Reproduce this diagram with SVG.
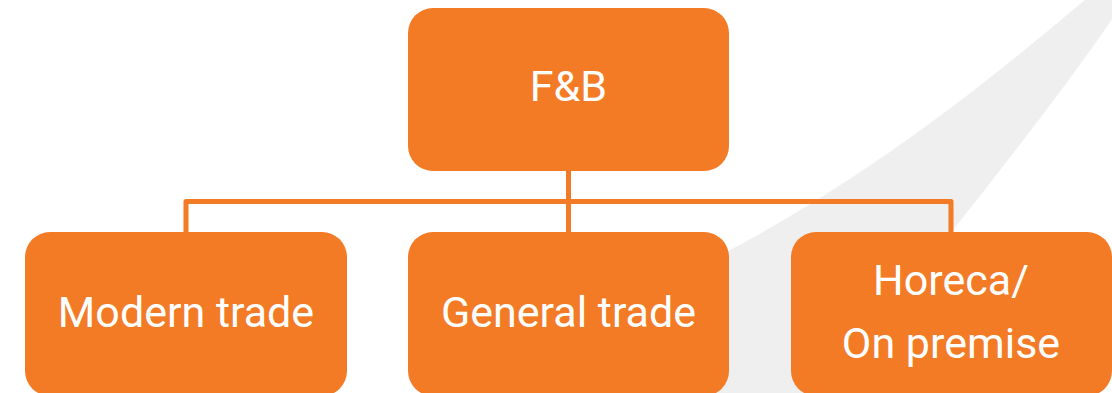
<svg xmlns="http://www.w3.org/2000/svg" width="1112" height="393" viewBox="0 0 1112 393">
  <style>
    .box { fill: #F47B25; }
    .lbl { fill: #FFFFFF; font-family: Roboto, "Liberation Sans", sans-serif; font-size: 43px; text-anchor: middle; }
    .conn { fill: none; stroke: #F47B25; stroke-width: 5; stroke-linejoin: round; }
  </style>
  <rect width="1112" height="393" fill="#FFFFFF"/>
  <path id="swoosh" d="M1085 0 C1030 45 900 160 730 250 L650 300 L650 393 L824 393 L953 230 C1040 120 1085 60 1125 0 Z" fill="#EFEFEF"/>
  <g id="connectors">
    <path class="conn" d="M186 232 V201.5 H951 V232"/>
    <path class="conn" d="M568.5 171 V232"/>
  </g>
  <g id="node-fb">
    <rect class="box" x="408" y="8" width="321" height="163" rx="25" ry="25"/>
    <text class="lbl" x="568.5" y="101">F&amp;B</text>
  </g>
  <g id="node-modern">
    <rect class="box" x="25" y="232" width="322" height="164" rx="25" ry="25"/>
    <text class="lbl" x="186" y="327">Modern trade</text>
  </g>
  <g id="node-general">
    <rect class="box" x="408" y="232" width="321" height="164" rx="25" ry="25"/>
    <text class="lbl" x="568.5" y="327">General trade</text>
  </g>
  <g id="node-horeca">
    <rect class="box" x="791" y="232" width="321" height="164" rx="25" ry="25"/>
    <text class="lbl" x="951" y="295">Horeca/</text>
    <text class="lbl" x="951" y="358">On premise</text>
  </g>
</svg>
